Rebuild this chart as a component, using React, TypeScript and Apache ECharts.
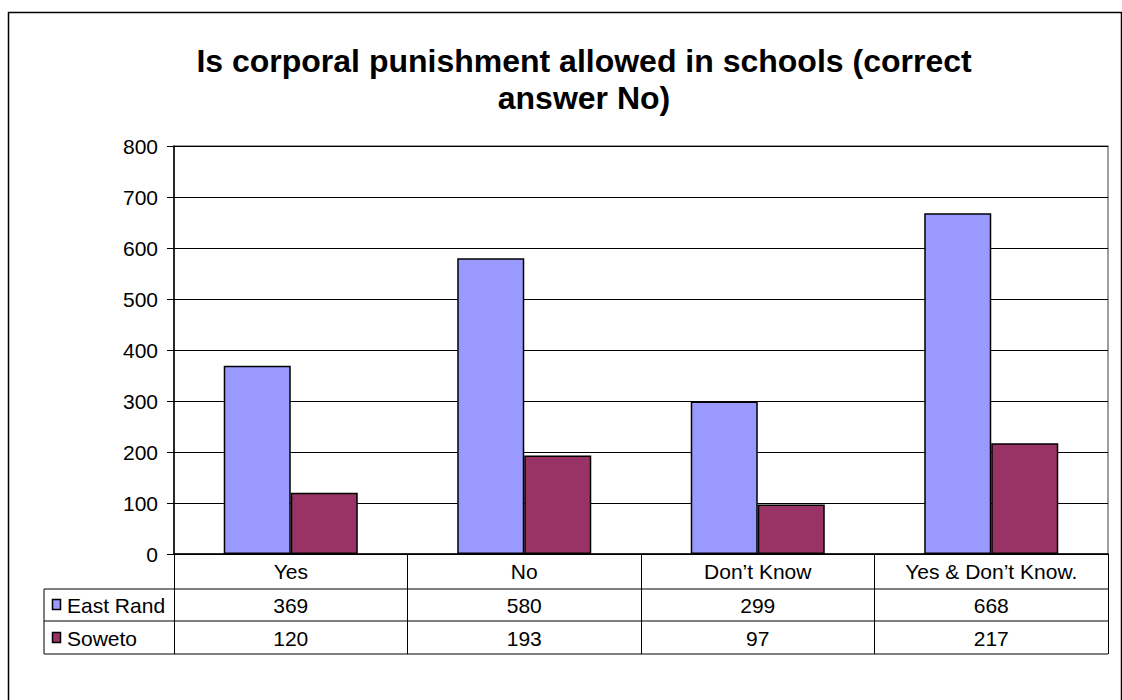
import React, { useEffect, useRef } from "react";
import * as echarts from "echarts";

const categories = ["Yes", "No", "Don\u2019t Know", "Yes & Don\u2019t Know."];
const seriesNames = ["East Rand", "Soweto"];
const eastRand = [369, 580, 299, 668];
const soweto = [120, 193, 97, 217];
const yTicks = { min: 0, max: 800, interval: 100 };
const titleText = "Is corporal punishment allowed in schools (correct\nanswer No)";

const FONT = "Arial, 'Liberation Sans', sans-serif";
const COLORS = ["#9999FF", "#993366"];
const FS = 21;

export default function App() {
  const ref = useRef<HTMLDivElement>(null);
  useEffect(() => {
    if (!ref.current) return;
    const chart = echarts.init(ref.current, null, { renderer: "svg" });
    const gridLeft = 174, gridTop = 146, gridRight = 1108, gridBottom = 554;
    const option: any = {
      animation: false,
      backgroundColor: "#ffffff",
      title: {
        text: titleText,
        left: 579,
        top: 37,
        textAlign: "center",
        textStyle: { fontFamily: FONT, fontSize: 32, fontWeight: "bold", color: "#000", lineHeight: 37 },
      },
      grid: {
        left: gridLeft,
        top: gridTop,
        width: gridRight - gridLeft,
        height: gridBottom - gridTop,
        show: true,
        borderColor: "#808080",
        borderWidth: 1.5,
        backgroundColor: "transparent",
      },
      xAxis: {
        type: "category",
        data: categories,
        axisLine: { lineStyle: { color: "#000", width: 1.5 } },
        axisTick: { show: true, length: 100, interval: 0, lineStyle: { color: "#000", width: 1 } },
        axisLabel: { fontFamily: FONT, fontSize: FS, color: "#000", margin: 7, interval: 0 },
      },
      yAxis: {
        type: "value",
        min: yTicks.min,
        max: yTicks.max,
        interval: yTicks.interval,
        axisLine: { show: true, lineStyle: { color: "#000", width: 1.5 } },
        axisTick: { show: true, length: 7, lineStyle: { color: "#000" } },
        axisLabel: { fontFamily: FONT, fontSize: FS, color: "#000", margin: 16 },
        splitLine: { show: true, lineStyle: { color: "#000", width: 1 } },
      },
      series: [
        {
          name: seriesNames[0],
          type: "bar",
          data: eastRand,
          barGap: "0%",
          barCategoryGap: "42.6%",
          itemStyle: { color: COLORS[0], borderColor: "#000", borderWidth: 1.5 },
        },
        {
          name: seriesNames[1],
          type: "bar",
          data: soweto,
          itemStyle: { color: COLORS[1], borderColor: "#000", borderWidth: 1.5 },
        },
      ],
    };
    chart.setOption(option);

    // Data table under the axis
    const rowLines = [589, 621, 654];
    const rowCenters = [605, 638];
    const tableLeft = 44;
    const g: any[] = [];
    g.push({
      type: "rect",
      shape: { x: 8.5, y: 12.5, width: 1113, height: 700 },
      style: { fill: "none", stroke: "#000", lineWidth: 1.5 },
      silent: true,
    });
    rowLines.forEach((y) => {
      g.push({
        type: "line",
        shape: { x1: tableLeft, y1: y, x2: gridRight, y2: y },
        style: { stroke: "#000", lineWidth: 1 },
      });
    });
    g.push({
      type: "line",
      shape: { x1: tableLeft, y1: rowLines[0], x2: tableLeft, y2: rowLines[2] },
      style: { stroke: "#000", lineWidth: 1 },
    });
    const rows = [eastRand, soweto];
    rows.forEach((vals, r) => {
      g.push({
        type: "rect",
        shape: { x: 52.5, y: rowCenters[r] - 5.5, width: 8, height: 10 },
        style: { fill: COLORS[r], stroke: "#000", lineWidth: 1.5 },
      });
      g.push({
        type: "text",
        x: 67,
        y: rowCenters[r],
        style: { text: seriesNames[r], font: `${FS}px ${FONT}`, fill: "#000", textVerticalAlign: "middle", textAlign: "left" },
      });
      vals.forEach((v, i) => {
        const px = chart.convertToPixel({ xAxisIndex: 0 }, categories[i]) as number;
        g.push({
          type: "text",
          x: px,
          y: rowCenters[r],
          style: { text: String(v), font: `${FS}px ${FONT}`, fill: "#000", textAlign: "center", textVerticalAlign: "middle" },
        });
      });
    });
    chart.setOption({ graphic: g });
    return () => chart.dispose();
  }, []);
  return (
    <div
      ref={ref}
      style={{ position: "absolute", left: 0, top: 0, width: 1122, height: 700 }}
    />
  );
}
